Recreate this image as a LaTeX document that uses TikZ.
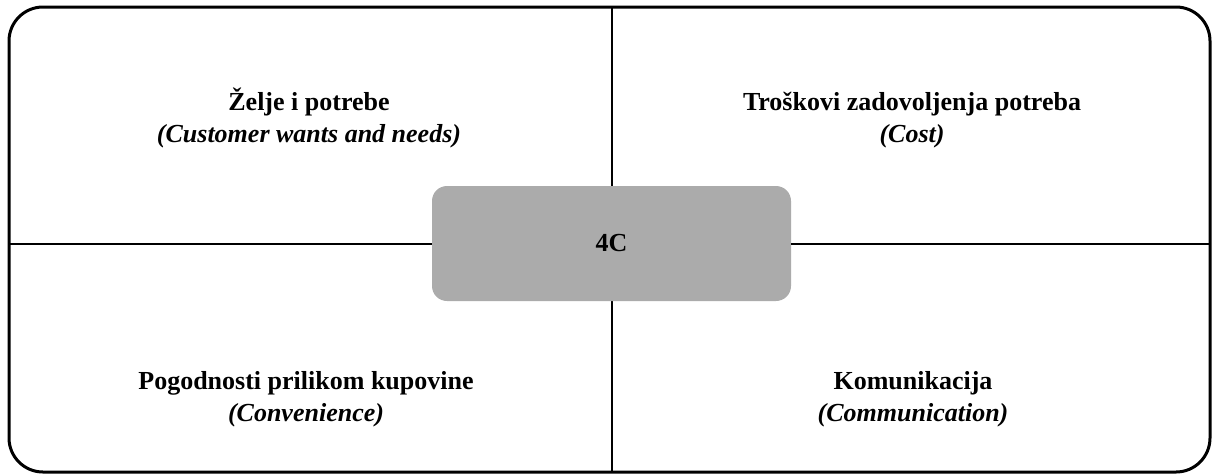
\documentclass[tikz,border=0pt]{standalone}
\usepackage{fontspec}
\setmainfont{Liberation Serif}
\begin{document}
\begin{tikzpicture}[x=1pt,y=-1pt,
  frame/.style={draw=black,line width=3pt,rounded corners=34pt},
  divider/.style={draw=black,line width=2pt},
  centerbox/.style={fill=boxgray,draw=none,rounded corners=15pt,minimum width=359pt,minimum height=115pt,inner sep=0pt,font=\bfseries\fontsize{26}{30}\selectfont},
  title/.style={anchor=base,inner sep=0pt,font=\bfseries\fontsize{26}{30}\selectfont},
  subtitle/.style={anchor=base,inner sep=0pt,font=\bfseries\itshape\fontsize{26}{30}\selectfont}]
\definecolor{boxgray}{HTML}{ABABAB}
\useasboundingbox (0,0) rectangle (1212,475);
\coordinate (tl) at (9,7);
\coordinate (br) at (1210,472);
\draw[frame] (tl) rectangle (br);
\coordinate (vt) at (612,7);
\coordinate (vb) at (612,472);
\draw[divider] (vt) -- (vb);
\node[centerbox] (c) at (611.5,243.5) {4C};
\coordinate (hl) at (9,243.5);
\coordinate (hr) at (1210,243.5);
\draw[divider] (hl) -- (c.west);
\draw[divider] (c.east) -- (hr);
\node[title] (a1) at (309,110) {Želje i potrebe};
\node[subtitle] (a2) at (309,142) {(Customer wants and needs)};
\node[title] (b1) at (912,110) {Troškovi zadovoljenja potreba};
\node[subtitle] (b2) at (912,142) {(Cost)};
\node[title] (d1) at (306,389) {Pogodnosti prilikom kupovine};
\node[subtitle] (d2) at (306,421) {(Convenience)};
\node[title] (e1) at (913,389) {Komunikacija};
\node[subtitle] (e2) at (913,421) {(Communication)};
\end{tikzpicture}
\end{document}
